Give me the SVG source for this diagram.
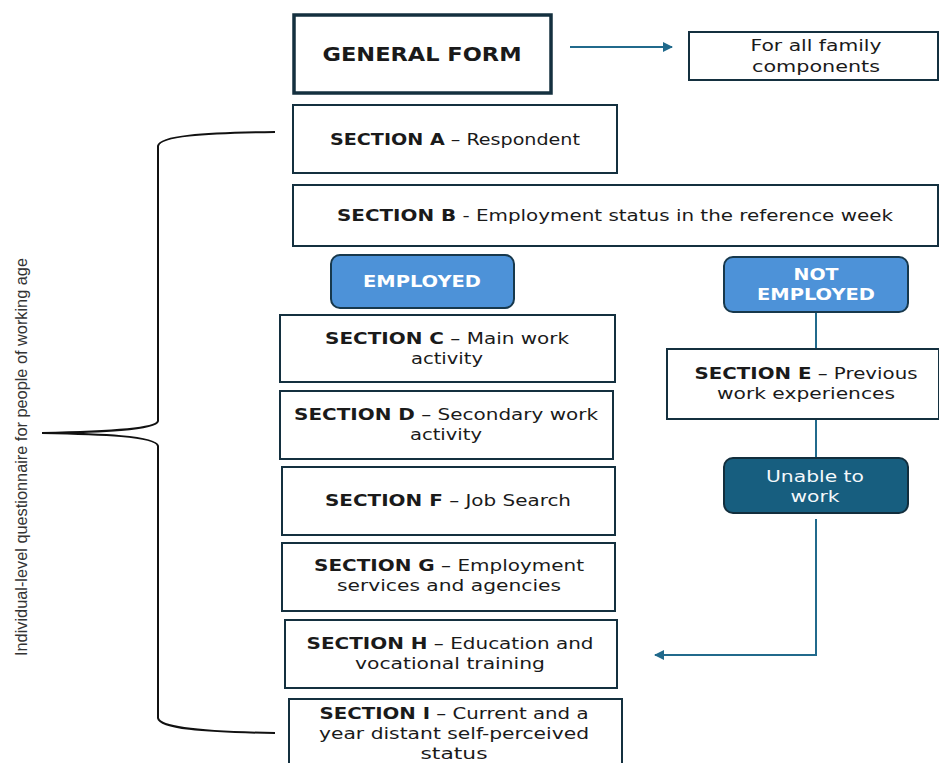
<svg xmlns="http://www.w3.org/2000/svg" width="939" height="763" viewBox="0 0 939 763">
<defs>
<style>
.box{fill:#fff;stroke:#14303f;stroke-width:2}
.gf{fill:#fff;stroke:#14303f;stroke-width:3.5}
.emp{fill:#4d92d8;stroke:#17384c;stroke-width:2}
.unable{fill:#175e7f;stroke:#122e3d;stroke-width:2}
.t{font-family:"DejaVu Sans","Liberation Sans",sans-serif;font-size:16.5px;fill:#1a1a1a;text-anchor:middle}
.b{font-weight:bold}
.w{fill:#fff;font-weight:bold}
.wn{fill:#f4f8fb}
.con{fill:none;stroke:#216a8c;stroke-width:2}
.brace{fill:none;stroke:#111;stroke-width:2}
.side{font-family:"Liberation Sans",Arial,sans-serif;font-size:16px;fill:#333;text-anchor:middle}
</style>
<marker id="ah" viewBox="0 0 10 10" refX="9" refY="5" markerWidth="5" markerHeight="5" orient="auto-start-reverse" markerUnits="strokeWidth">
<path d="M0,0 L10,5 L0,10 z" fill="#216a8c"/>
</marker>
</defs>

<g id="connectors">
<line class="con" x1="570" y1="47" x2="672" y2="47" marker-end="url(#ah)"/>
<line class="con" x1="816" y1="312" x2="816" y2="349"/>
<line class="con" x1="816" y1="419" x2="816" y2="458"/>
<polyline class="con" points="816,519 816,655 655,655" marker-end="url(#ah)"/>
</g>

<g id="brace">
<path class="brace" d="M275,132 C200,133 160,136 158,146 L158,421 C156,430 100,432 42,433 C100,434 156,436 158,446 L158,718 C160,728 200,732 275,733"/>
</g>

<g id="side-label">
<text class="side" transform="translate(27,457) rotate(-90)" textLength="398" lengthAdjust="spacingAndGlyphs">Individual-level questionnaire for people of working age</text>
</g>

<g id="general-form">
<rect class="gf" x="294" y="15" width="257" height="78"/>
<text class="t b" x="422" y="61" style="font-size:20px" textLength="199" lengthAdjust="spacingAndGlyphs">GENERAL FORM</text>
</g>

<g id="family">
<rect class="box" x="689" y="32" width="249" height="48"/>
<text class="t" x="816" y="51" style="font-size:15.5px" textLength="131" lengthAdjust="spacingAndGlyphs">For all family</text>
<text class="t" x="816" y="72" style="font-size:15.5px" textLength="128" lengthAdjust="spacingAndGlyphs">components</text>
</g>

<g id="section-a">
<rect class="box" x="293" y="105" width="324" height="68"/>
<text class="t" x="455" y="145" textLength="250" lengthAdjust="spacingAndGlyphs"><tspan class="b">SECTION A</tspan> – Respondent</text>
</g>

<g id="section-b">
<rect class="box" x="293" y="185" width="645" height="61"/>
<text class="t" x="615" y="221" textLength="556" lengthAdjust="spacingAndGlyphs"><tspan class="b">SECTION B</tspan> - Employment status in the reference week</text>
</g>

<g id="employed">
<rect class="emp" x="331" y="255" width="183" height="53" rx="9"/>
<text class="t w" x="422" y="287" textLength="118" lengthAdjust="spacingAndGlyphs">EMPLOYED</text>
</g>

<g id="not-employed">
<rect class="emp" x="724" y="257" width="184" height="55" rx="9"/>
<text class="t w" x="816" y="280" textLength="45" lengthAdjust="spacingAndGlyphs">NOT</text>
<text class="t w" x="816" y="300" textLength="118" lengthAdjust="spacingAndGlyphs">EMPLOYED</text>
</g>

<g id="section-c">
<rect class="box" x="280" y="315" width="335" height="67"/>
<text class="t" x="447" y="344" textLength="244" lengthAdjust="spacingAndGlyphs"><tspan class="b">SECTION C</tspan> – Main work</text>
<text class="t" x="447" y="364" textLength="72" lengthAdjust="spacingAndGlyphs">activity</text>
</g>

<g id="section-e">
<rect class="box" x="667" y="349" width="272" height="70"/>
<text class="t" x="806" y="379" textLength="223" lengthAdjust="spacingAndGlyphs"><tspan class="b">SECTION E</tspan> – Previous</text>
<text class="t" x="806" y="399" textLength="178" lengthAdjust="spacingAndGlyphs">work experiences</text>
</g>

<g id="unable">
<rect class="unable" x="724" y="458" width="184" height="55" rx="9"/>
<text class="t wn" x="815" y="482" textLength="98" lengthAdjust="spacingAndGlyphs">Unable to</text>
<text class="t wn" x="815" y="502" textLength="49" lengthAdjust="spacingAndGlyphs">work</text>
</g>

<g id="section-d">
<rect class="box" x="280" y="391" width="333" height="68"/>
<text class="t" x="446" y="420" textLength="304" lengthAdjust="spacingAndGlyphs"><tspan class="b">SECTION D</tspan> – Secondary work</text>
<text class="t" x="446" y="440" textLength="72" lengthAdjust="spacingAndGlyphs">activity</text>
</g>

<g id="section-f">
<rect class="box" x="282" y="467" width="333" height="68"/>
<text class="t" x="448" y="506" textLength="246" lengthAdjust="spacingAndGlyphs"><tspan class="b">SECTION F</tspan> – Job Search</text>
</g>

<g id="section-g">
<rect class="box" x="282" y="543" width="333" height="68"/>
<text class="t" x="449" y="571" textLength="270" lengthAdjust="spacingAndGlyphs"><tspan class="b">SECTION G</tspan> – Employment</text>
<text class="t" x="449" y="591" textLength="224" lengthAdjust="spacingAndGlyphs">services and agencies</text>
</g>

<g id="section-h">
<rect class="box" x="285" y="620" width="332" height="68"/>
<text class="t" x="450" y="649" textLength="287" lengthAdjust="spacingAndGlyphs"><tspan class="b">SECTION H</tspan> – Education and</text>
<text class="t" x="450" y="669" textLength="190" lengthAdjust="spacingAndGlyphs">vocational training</text>
</g>

<g id="section-i">
<rect class="box" x="289" y="699" width="333" height="70"/>
<text class="t" x="454" y="719" textLength="269" lengthAdjust="spacingAndGlyphs"><tspan class="b">SECTION I</tspan> – Current and a</text>
<text class="t" x="454" y="739" textLength="270" lengthAdjust="spacingAndGlyphs">year distant self-perceived</text>
<text class="t" x="454" y="759" textLength="67" lengthAdjust="spacingAndGlyphs">status</text>
</g>
</svg>
